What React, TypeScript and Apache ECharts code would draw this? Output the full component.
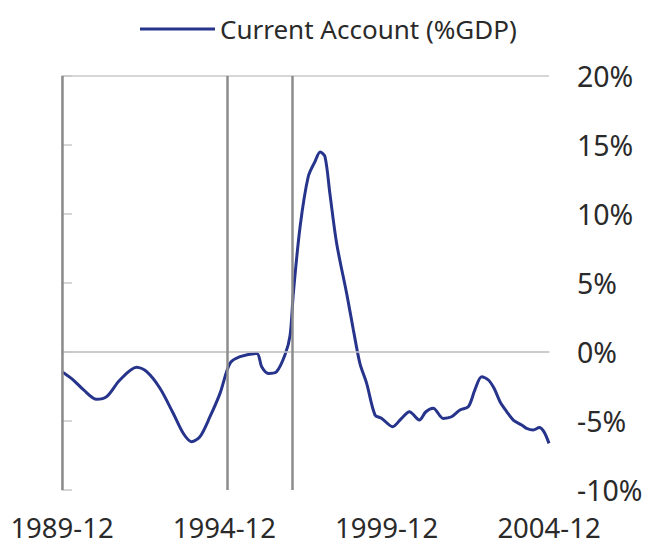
import React, { useEffect, useRef } from "react";
import * as echarts from "echarts";

// months since 1989-12
const months = [
  0, 4, 8, 12.8, 16.5, 21.4, 27.6, 31.3, 36.2, 41.1, 44.8, 47.9, 51, 54.7, 58.4, 62.1, 65.8, 72, 73.8, 76.3, 79.3, 82.4, 84.3,
  85.5, 88, 91, 93.5, 95.4, 97.2, 99, 101.5, 105.2, 107.7, 110.1, 112.6, 115.7, 118.2, 122.2, 125.5, 128.4, 132.1, 134.5,
  137.2, 140.9, 144, 147.1, 150.2, 152.6, 155.1, 157.6, 159.7, 161.9, 164.4, 166.8, 169.9, 171.7, 174.2, 176.4, 178.1, 180,
];
// current account, % of GDP
const values = [
  -1.43, -2.0, -2.75, -3.43, -3.24, -2.03, -1.11, -1.43, -2.63, -4.44, -5.89, -6.5, -6.14, -4.69, -3.0, -0.82, -0.34, -0.1,
  -1.07, -1.55, -1.43, -0.22, 1.2, 4.25, 9.08, 12.7, 13.8, 14.5, 14.15, 11.5, 7.88, 4.25, 1.6, -0.82, -2.27, -4.57, -4.81,
  -5.41, -4.81, -4.33, -4.93, -4.33, -4.08, -4.81, -4.69, -4.2, -3.96, -2.75, -1.79, -2.03, -2.63, -3.6, -4.33, -4.93,
  -5.29, -5.53, -5.65, -5.48, -5.77, -6.62,
];
const xTickLabels: Record<number, string> = { 0: "1989-12", 60: "1994-12", 120: "1999-12", 180: "2004-12" };
const eventMonths = [0, 61, 85];
const seriesName = "Current Account (%GDP)";

export default function App() {
  const ref = useRef<HTMLDivElement>(null);
  useEffect(() => {
    document.body.style.margin = "0";
    if (!ref.current) return;
    const chart = echarts.init(ref.current, null, { renderer: "svg" });
    const font = "Noto Sans";
    const light = "#c8c8c8";
    const textColor = "#2a2a2a";
    chart.setOption({
      animation: false,
      legend: {
        top: 11,
        left: 135,
        itemWidth: 75,
        itemHeight: 3,
        itemGap: 8,
        data: [{ name: seriesName, icon: "rect" }],
        textStyle: { fontFamily: font, fontSize: 26, color: textColor },
      },
      grid: { left: 62, right: 100, top: 76, bottom: 54 },
      xAxis: {
        type: "value",
        min: 0,
        max: 180,
        interval: 60,
        axisLine: { show: true, lineStyle: { color: light, width: 1.5 } },
        axisTick: { show: false },
        splitLine: { show: false },
        axisLabel: {
          margin: 23,
          fontFamily: font,
          fontSize: 27.5,
          color: textColor,
          formatter: (v: number) => xTickLabels[v] ?? "",
        },
      },
      yAxis: {
        type: "value",
        position: "right",
        min: -10,
        max: 20,
        interval: 5,
        axisLine: { show: true, lineStyle: { color: light, width: 1.5 } },
        axisTick: { show: true, length: 10, lineStyle: { color: light, width: 1.5 } },
        splitLine: { show: false },
        axisLabel: {
          margin: 28,
          fontFamily: font,
          fontSize: 28.5,
          color: textColor,
          formatter: (v: number) => `${v}%`,
        },
      },
      series: [
        {
          name: seriesName,
          type: "line",
          data: months.map((m, i) => [m, values[i]]),
          smooth: 0.3,
          showSymbol: false,
          lineStyle: { color: "#27348b", width: 3 },
          itemStyle: { color: "#27348b" },
          markLine: {
            silent: true,
            symbol: "none",
            label: { show: false },
            data: [
              { yAxis: 0, lineStyle: { color: light, width: 1.5, type: "solid" } },
              { yAxis: 20, lineStyle: { color: light, width: 1.5, type: "solid" } },
              ...eventMonths.map((m) => ({ xAxis: m, lineStyle: { color: "#8c8c8c", width: 2.5, type: "solid" } })),
            ],
          },
        },
      ],
    });
    return () => chart.dispose();
  }, []);
  return <div ref={ref} style={{ width: 649, height: 544 }} />;
}
